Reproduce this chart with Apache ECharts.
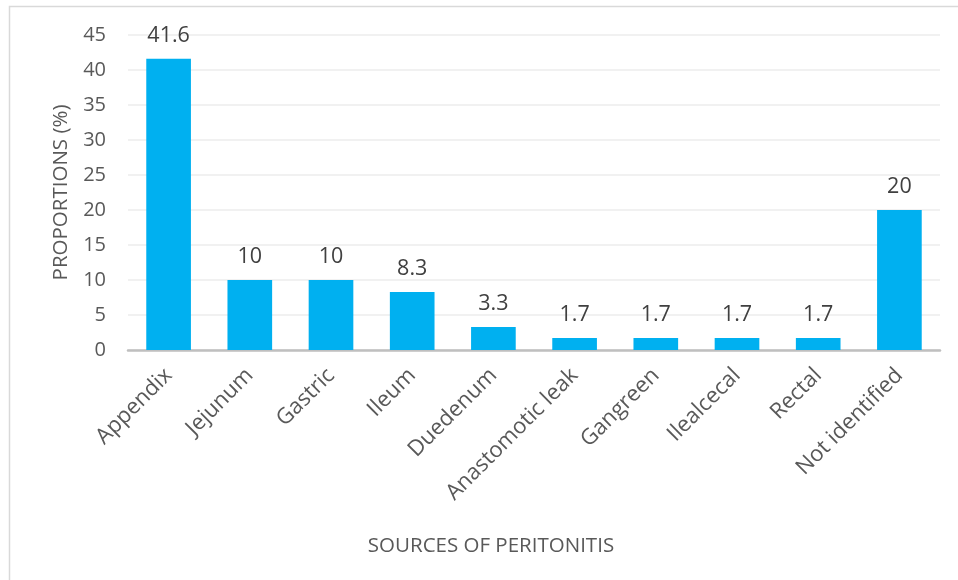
<!DOCTYPE html>
<html>
<head>
<meta charset="utf-8">
<script src="https://cdn.jsdelivr.net/npm/echarts@6/dist/echarts.min.js"></script>
<style>html,body{margin:0;padding:0;background:#fff}#c{width:958px;height:580px}</style>
</head>
<body>
<div id="c"></div>
<script>
const categories = ["Appendix","Jejunum","Gastric","Ileum","Duedenum","Anastomotic leak","Gangreen","Ilealcecal","Rectal","Not identified"];
const values = [41.6,10,10,8.3,3.3,1.7,1.7,1.7,1.7,20];
const xAxisTitle = "SOURCES OF PERITONITIS";
const yAxisTitle = "PROPORTIONS (%)";

const font = "'Open Sans', 'Noto Sans', sans-serif";
const chart = echarts.init(document.getElementById('c'), null, {renderer:'canvas'});
chart.setOption({
  animation:false,
  backgroundColor:'#fff',
  graphic:[{type:'rect',shape:{x:9.5,y:6.5,width:960,height:600},style:{fill:'none',stroke:'#d9d9d9',lineWidth:1.5},silent:true}],
  grid:{left:128,right:18,top:35,bottom:230,containLabel:false},
  xAxis:{
    type:'category',data:categories,
    name:xAxisTitle,nameLocation:'middle',nameGap:186,
    nameTextStyle:{fontFamily:font,fontSize:20.5,color:'#595959',padding:[0,86,0,0]},
    axisLine:{lineStyle:{color:'#bfbfbf',width:2.5}},
    axisTick:{show:false},
    axisLabel:{rotate:45,interval:0,fontFamily:font,fontSize:22,color:'#595959',margin:22}
  },
  yAxis:{
    type:'value',min:0,max:45,interval:5,
    name:yAxisTitle,nameLocation:'middle',nameGap:56,
    nameTextStyle:{fontFamily:font,fontSize:20.5,color:'#595959'},
    axisLine:{show:false},axisTick:{show:false},
    axisLabel:{fontFamily:font,fontSize:20,color:'#595959',margin:22},
    splitLine:{lineStyle:{color:'#ececec',width:1.5}}
  },
  series:[{
    type:'bar',data:values,barWidth:'55%',
    itemStyle:{color:'#00B0F0'},
    label:{show:true,position:'top',distance:12,fontFamily:font,fontSize:21.5,color:'#404040'}
  }]
});
</script>
</body>
</html>
